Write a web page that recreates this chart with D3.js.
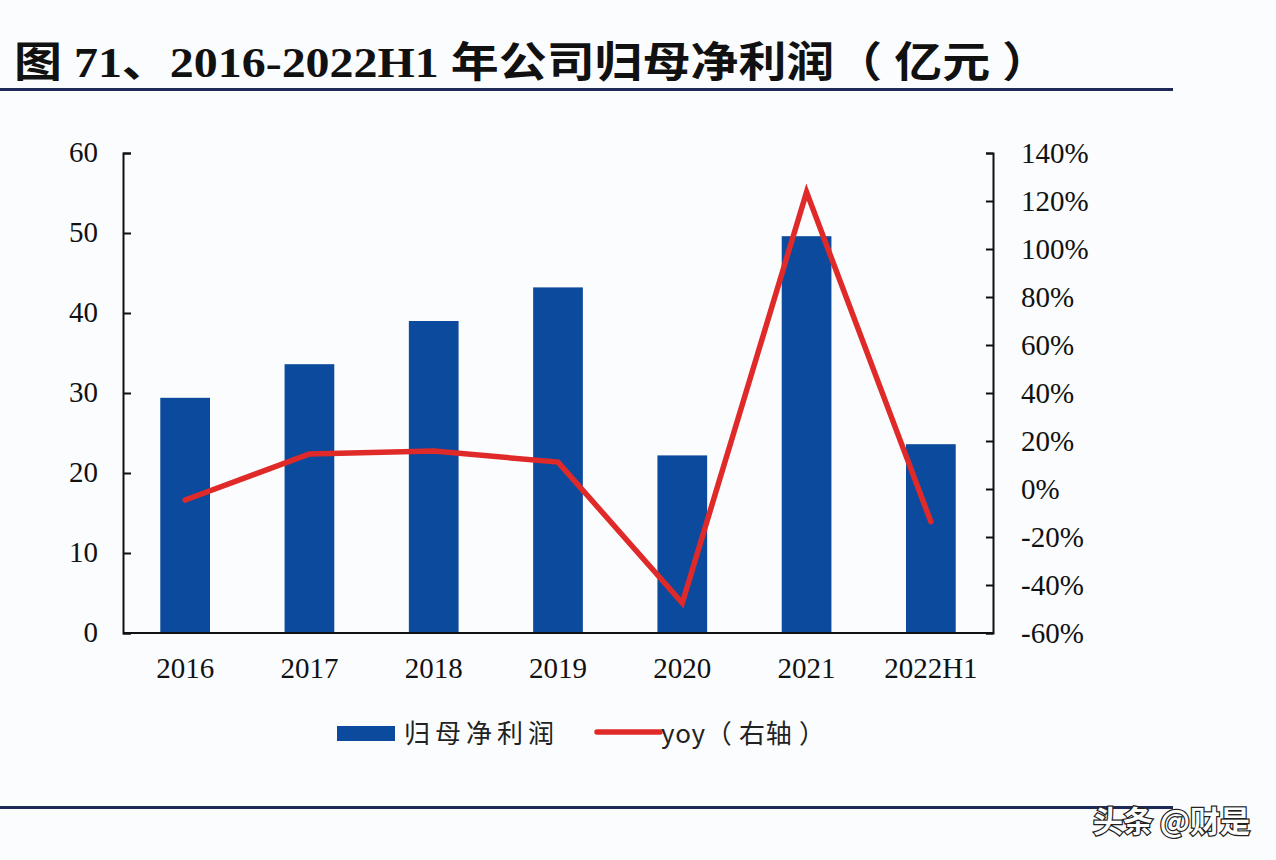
<!DOCTYPE html>
<html><head><meta charset="utf-8">
<script src="https://cdn.jsdelivr.net/npm/d3@7"></script>
<style>body{margin:0;background:#fbfcfe;} svg{display:block;}</style>
</head><body>
<svg id="c" width="1276" height="860"></svg>
<script>
const categories = ["2016","2017","2018","2019","2020","2021","2022H1"];
const profit = [29.4, 33.6, 39.0, 43.2, 22.2, 49.6, 23.6];
const yoy = [-4.6, 14.6, 15.8, 11.2, -47.5, 123.7, -13.6];
const leftTicks = [0,10,20,30,40,50,60];
const rightTicks = [-60,-40,-20,0,20,40,60,80,100,120,140];

const svg = d3.select("#c");
svg.append("rect").attr("width",1276).attr("height",860).attr("fill","#fbfcfe");

const L=123, R=993, T=153, B=633;
const x = d3.scaleBand().domain(categories).range([L,R]).paddingInner(0.6).paddingOuter(0.3);
const y = d3.scaleLinear().domain([0,60]).range([B,T]);
const y2 = d3.scaleLinear().domain([-60,140]).range([B,T]);

// title
svg.append("text").attr("x",14).attr("y",77)
  .attr("font-family","'Liberation Serif','Noto Sans CJK SC',serif")
  .attr("font-weight","bold").attr("font-size",42).attr("fill","#111")
  .attr("textLength",1036).attr("lengthAdjust","spacingAndGlyphs")
  .text("图 71、2016-2022H1 年公司归母净利润（ 亿元 ）");
svg.append("rect").attr("x",0).attr("y",88).attr("width",1173).attr("height",3).attr("fill","#1e2a5a");
svg.append("rect").attr("x",0).attr("y",806).attr("width",1173).attr("height",3).attr("fill","#1e2a5a");

// bars
svg.append("g").selectAll("rect").data(categories).join("rect")
  .attr("x",d=>x(d)).attr("width",x.bandwidth())
  .attr("y",(d,i)=>y(profit[i])).attr("height",(d,i)=>B-y(profit[i]))
  .attr("fill","#0b4a9c");

// axes
const fontAx = "'Liberation Serif','Times New Roman',serif";
const fs = 29;
const gl = svg.append("g").attr("transform",`translate(${L},0)`)
  .call(d3.axisRight(y).tickValues(leftTicks).tickSize(8).tickFormat(""));
gl.selectAll("path,line").attr("stroke","#111").attr("stroke-width",2);
svg.append("g").selectAll("text").data(leftTicks).join("text")
  .attr("x",98).attr("y",d=>y(d)+9).attr("text-anchor","end")
  .attr("font-family",fontAx).attr("font-size",fs).attr("fill","#111").text(d=>d);

const gr = svg.append("g").attr("transform",`translate(${R},0)`)
  .call(d3.axisLeft(y2).tickValues(rightTicks).tickSize(7).tickFormat(""));
gr.selectAll("path,line").attr("stroke","#111").attr("stroke-width",2);
svg.append("g").selectAll("text").data(rightTicks).join("text")
  .attr("x",1021).attr("y",d=>y2(d)+10).attr("text-anchor","start")
  .attr("font-family",fontAx).attr("font-size",fs).attr("fill","#111").text(d=>d+"%");

svg.append("line").attr("x1",L).attr("x2",R).attr("y1",B).attr("y2",B).attr("stroke","#111").attr("stroke-width",2);

svg.append("g").selectAll("text").data(categories).join("text")
  .attr("x",d=>x(d)+x.bandwidth()/2).attr("y",678).attr("text-anchor","middle")
  .attr("font-family",fontAx).attr("font-size",fs).attr("fill","#111").text(d=>d);

// line
const line = d3.line().x((d,i)=>x(categories[i])+x.bandwidth()/2).y(d=>y2(d));
svg.append("path").datum(yoy).attr("d",line).attr("fill","none")
  .attr("stroke","#e02a2a").attr("stroke-width",5.5).attr("stroke-linejoin","miter").attr("stroke-linecap","round");

// legend
svg.append("rect").attr("x",337).attr("y",726).attr("width",58).attr("height",15).attr("fill","#0b4a9c");
svg.append("text").attr("x",404).attr("y",743).attr("font-family","'Noto Sans CJK SC',sans-serif")
  .attr("font-size",26).attr("fill","#222").attr("textLength",150).attr("lengthAdjust","spacing").text("归母净利润");
svg.append("line").attr("x1",597).attr("x2",660).attr("y1",732).attr("y2",732)
  .attr("stroke","#e02a2a").attr("stroke-width",5.5).attr("stroke-linecap","round");
svg.append("text").attr("x",661).attr("y",743).attr("font-family","'Noto Sans CJK SC',sans-serif")
  .attr("font-size",26).attr("fill","#222").attr("textLength",164).attr("lengthAdjust","spacing").text("yoy（ 右轴 ）");

// watermark
svg.append("text").attr("x",1250).attr("y",832).attr("text-anchor","end")
  .attr("font-family","'Noto Sans CJK SC',sans-serif").attr("font-size",30).attr("font-weight","bold")
  .attr("fill","#fff").attr("stroke","#222").attr("stroke-width",2.5).attr("paint-order","stroke")
  .text("头条 @财是");
</script>
</body></html>
